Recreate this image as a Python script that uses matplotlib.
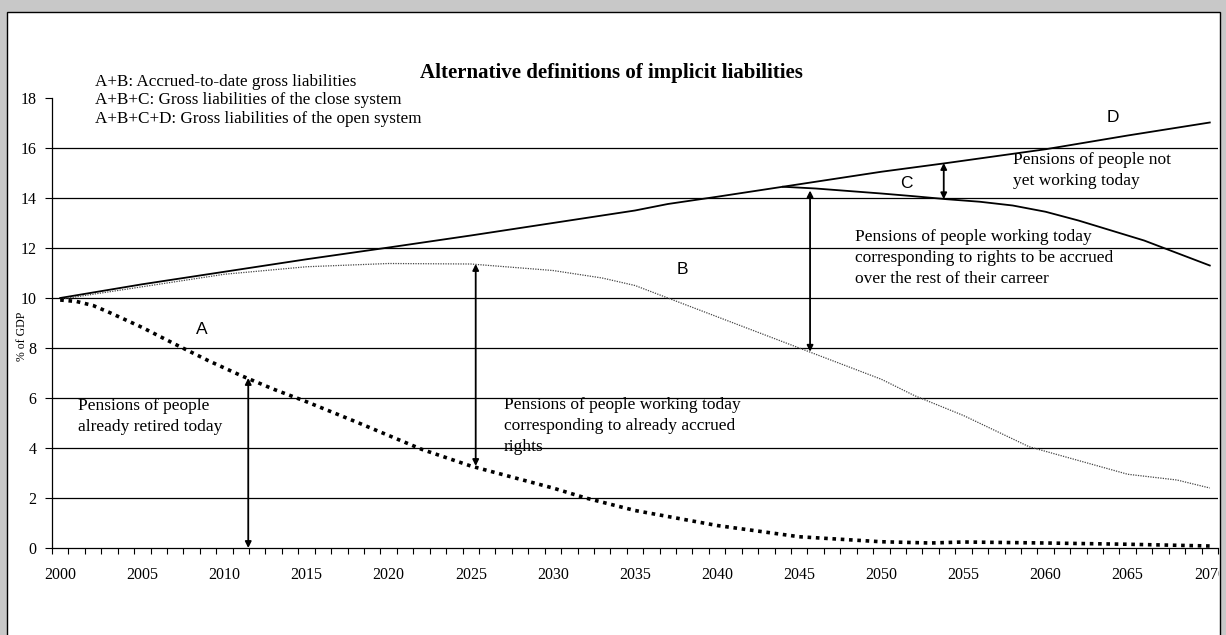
import matplotlib.pyplot as plt
from matplotlib.patches import Rectangle
import numpy as np

# open system gross liabilities (A+B+C+D)
years_d = [2000, 2005, 2010, 2015, 2020, 2025, 2030, 2035, 2037, 2040, 2044, 2050, 2054, 2060, 2065, 2070]
open_sys = [10.0, 10.55, 11.05, 11.55, 12.02, 12.5, 13.0, 13.5, 13.76, 14.05, 14.45, 15.05, 15.4, 15.95, 16.5, 17.02]

# close system gross liabilities (A+B+C)
years_c = [2044, 2046, 2048, 2050, 2052, 2054, 2056, 2058, 2060, 2062, 2064, 2066, 2068, 2070]
close_sys = [14.45, 14.38, 14.28, 14.18, 14.07, 13.95, 13.85, 13.7, 13.45, 13.1, 12.7, 12.3, 11.8, 11.3]

# accrued-to-date gross liabilities (A+B)
years_b = [2000, 2005, 2010, 2015, 2020, 2025, 2030, 2033, 2035, 2037, 2040, 2045, 2050, 2052, 2055, 2059, 2062, 2065, 2068, 2070]
accrued = [9.95, 10.45, 10.95, 11.25, 11.38, 11.36, 11.1, 10.8, 10.5, 10.0, 9.25, 8.0, 6.75, 6.1, 5.3, 4.05, 3.5, 2.95, 2.72, 2.4]

# already retired (A)
years_a = [2000, 2001, 2002, 2003, 2004, 2005, 2007, 2009, 2011, 2013, 2015, 2018, 2020, 2022, 2025, 2028, 2030, 2032, 2035, 2040, 2045, 2050, 2053, 2055, 2060, 2065, 2070]
retired = [9.92, 9.86, 9.7, 9.42, 9.12, 8.82, 8.15, 7.5, 6.9, 6.35, 5.85, 5.05, 4.5, 3.95, 3.28, 2.75, 2.4, 2.0, 1.5, 0.9, 0.45, 0.25, 0.2, 0.24, 0.2, 0.15, 0.08]

serif = 'Liberation Serif'
sans = 'Liberation Sans'

fig = plt.figure(figsize=(12.26, 6.35), dpi=100, facecolor='#c8c8c8')
panel = Rectangle((7 / 1226, -0.05), 1213 / 1226, 1.05 - 12 / 635,
                  transform=fig.transFigure, facecolor='white',
                  edgecolor='black', lw=1.0, zorder=-10)
fig.patches.append(panel)

ax = fig.add_axes([52 / 1226, 1 - 548 / 635, 1166 / 1226, 450 / 635])
ax.set_zorder(2)
ax.set_facecolor('none')

ax.plot(years_d, open_sys, color='black', lw=1.3, zorder=3)
ax.plot(years_c, close_sys, color='black', lw=1.3, zorder=3)
ax.plot(years_b, accrued, color='#444444', lw=0.9, ls=(0, (1, 1)), zorder=3)
ax.plot(years_a, retired, color='black', lw=2.6, ls=(0, (1, 1.3)),
        dash_capstyle='butt', zorder=3)

ax.set_xlim(1999.5, 2070.5)
ax.set_ylim(0, 18)
ax.set_yticks(np.arange(0, 19, 2))
ax.set_xticks(np.arange(2000, 2071, 5))
ax.set_xticks(np.arange(1999.5, 2071, 1), minor=True)
ax.tick_params(axis='x', which='major', length=0, pad=14, labelsize=11.5)
ax.tick_params(axis='x', which='minor', length=4, width=0.8, direction='out')
ax.tick_params(axis='y', length=5, width=0.8, direction='out', pad=6, labelsize=11.5)
for lab in ax.get_xticklabels() + ax.get_yticklabels():
    lab.set_fontfamily(serif)
# the last year label runs into the panel edge
clip = Rectangle((7 / 1226, 0), 1212 / 1226, 1, transform=fig.transFigure)
ax.xaxis.get_major_ticks()[-1].label1.set_clip_path(clip)

for s in ['top', 'right']:
    ax.spines[s].set_visible(False)
for s in ['left', 'bottom']:
    ax.spines[s].set_linewidth(0.9)

for y in range(2, 17, 2):
    ax.axhline(y, color='black', lw=0.9, zorder=1)

ax.set_ylabel('% of GDP', fontfamily=serif, fontsize=8.5)
ax.yaxis.set_label_coords(-0.021, 0.47)

# double arrows
arrows = [(2011.45, 0, 6.8), (2025.3, 3.28, 11.36), (2045.66, 7.85, 14.3), (2053.8, 13.95, 15.4)]
for x, y0, y1 in arrows:
    ax.annotate('', xy=(x, y1), xytext=(x, y0),
                arrowprops=dict(arrowstyle='<|-|>', color='black', lw=1.3,
                                mutation_scale=9, shrinkA=0, shrinkB=0), zorder=4)

# letters
for txt, x, y in [('A', 2008.6, 8.72), ('B', 2037.9, 11.12), ('C', 2051.5, 14.6), ('D', 2064.1, 17.24)]:
    ax.text(x, y, txt, fontfamily=sans, fontsize=12.5, ha='center', va='center')

notes = [
    (2001.1, 5.68, ['Pensions of people', 'already retired today']),
    (2027.0, 5.72, ['Pensions of people working today', 'corresponding to already accrued', 'rights']),
    (2048.4, 12.44, ['Pensions of people working today', 'corresponding to rights to be accrued',
                     'over the rest of their carreer']),
    (2058.0, 15.52, ['Pensions of people not', 'yet working today']),
]
for x, y, lines in notes:
    for i, line in enumerate(lines):
        ax.text(x, y - i * 0.84, line, fontfamily=serif, fontsize=12.5, ha='left', va='center', zorder=5)

legend_lines = ['A+B: Accrued-to-date gross liabilities',
                'A+B+C: Gross liabilities of the close system',
                'A+B+C+D: Gross liabilities of the open system']
for i, line in enumerate(legend_lines):
    fig.text(95 / 1226, 1 - (82 + i * 18.5) / 635, line, fontfamily=serif, fontsize=12.3, va='center')

fig.text(0.499, 1 - 73 / 635, 'Alternative definitions of implicit liabilities',
         fontfamily=serif, fontsize=15, fontweight='bold', ha='center', va='center')

fig.savefig('out.png', dpi=100, facecolor=fig.get_facecolor())
